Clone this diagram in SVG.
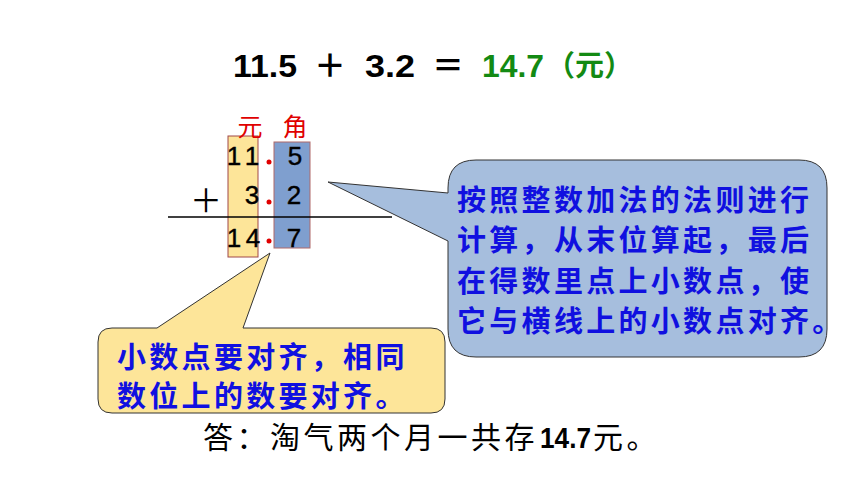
<svg xmlns="http://www.w3.org/2000/svg" width="860" height="484" viewBox="0 0 860 484">
<style>
.cjk{font-family:"Noto Sans CJK SC","Noto Sans",sans-serif}
.num{font-family:"Liberation Sans",Arial,sans-serif;font-size:26px;fill:#000;text-anchor:middle;stroke:#000;stroke-width:0.4}
.blue{fill:#1010e0;font-size:29px;letter-spacing:3.3px;font-weight:bold}
.dot{fill:#e00000}
</style>
<rect width="860" height="484" fill="#fff"/>
<g id="title">
<text class="cjk" font-size="32" y="77" fill="#000" font-weight="bold"><tspan x="233" textLength="64" lengthAdjust="spacingAndGlyphs" font-family="Liberation Sans">11.5</tspan><tspan x="314">＋</tspan><tspan x="365" textLength="50" lengthAdjust="spacingAndGlyphs" font-family="Liberation Sans">3.2</tspan><tspan x="432">＝</tspan></text>
<text class="cjk" font-size="32" y="77" fill="#138a13" font-weight="bold"><tspan x="482" textLength="62" lengthAdjust="spacingAndGlyphs" font-family="Liberation Sans">14.7</tspan></text>
<text class="cjk" font-size="29" y="76" fill="#138a13" font-weight="bold" x="546">（元）</text>
</g>
<g id="vertical">
<rect x="228" y="136" width="30" height="121" fill="#fde599" stroke="#a04848" stroke-width="1"/>
<rect x="274" y="142" width="36" height="106" fill="#7f9fcf" stroke="#b06868" stroke-width="1"/>
<text class="cjk" font-size="25" fill="#e00000" text-anchor="middle" x="250" y="136">元</text>
<text class="cjk" font-size="25" fill="#e00000" text-anchor="middle" x="295" y="136">角</text>
<text class="num" x="234" y="165">1</text><text class="num" x="252" y="165">1</text><text class="num" x="295" y="165">5</text>
<text class="num" x="252" y="204">3</text><text class="num" x="294" y="204">2</text>
<text class="num" x="234" y="247">1</text><text class="num" x="253" y="247">4</text><text class="num" x="294" y="247">7</text>
<circle class="dot" cx="269" cy="162" r="2.5"/>
<circle class="dot" cx="269" cy="202" r="2.5"/>
<circle class="dot" cx="269" cy="241" r="2.5"/>
<text class="cjk" font-size="32" text-anchor="middle" x="206" y="212">＋</text>
<line x1="168" y1="217" x2="392" y2="217" stroke="#000" stroke-width="1.5"/>
</g>
<g id="callout-yellow">
<path d="M112,328 L157,328 L270,253 L243,328 L431,328 Q445,328 445,342 L445,399 Q445,413 431,413 L112,413 Q98,413 98,399 L98,342 Q98,328 112,328 Z" fill="#fde599" stroke="#333" stroke-width="1"/>
<text class="cjk blue" x="117" y="368" letter-spacing="3.5">小数点要对齐，相同</text>
<text class="cjk blue" x="117" y="407" letter-spacing="3.5">数位上的数要对齐。</text>
</g>
<g id="callout-blue">
<path d="M476,160 L799,160 Q827,160 827,188 L827,329 Q827,357 799,357 L476,357 Q448,357 448,329 L448,241 L328,182 L448,193 L448,188 Q448,160 476,160 Z" fill="#a6bedd" stroke="#333" stroke-width="1"/>
<text class="cjk blue" x="457" y="211">按照整数加法的法则进行</text>
<text class="cjk blue" x="457" y="251">计算，从末位算起，最后</text>
<text class="cjk blue" x="457" y="292">在得数里点上小数点，使</text>
<text class="cjk blue" x="457" y="332">它与横线上的小数点对齐。</text>
</g>
<g id="answer">
<text class="cjk" font-size="30" y="448" fill="#000"><tspan x="203" letter-spacing="3.5">答：淘气两个月一共存</tspan><tspan x="540" textLength="51" lengthAdjust="spacingAndGlyphs" font-family="Liberation Sans" font-weight="bold">14.7</tspan><tspan x="593" letter-spacing="3.5">元。</tspan></text>
</g>
</svg>
